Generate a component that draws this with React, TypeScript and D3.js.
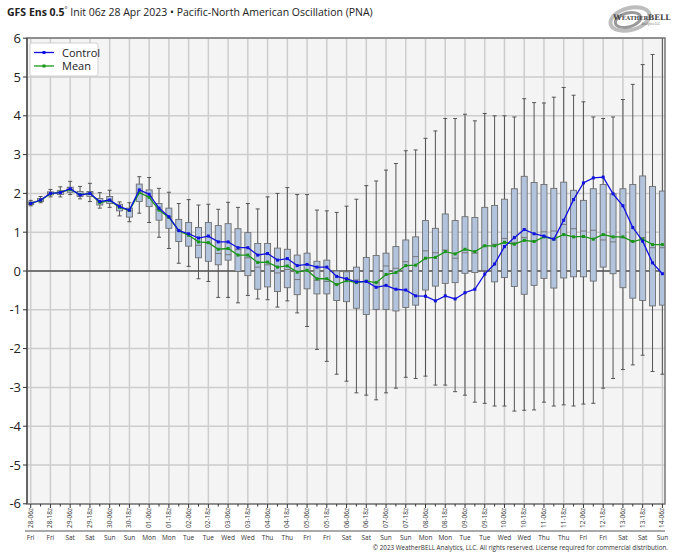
import React from "react";
import * as d3 from "d3";

const tickLabels = [
  "28-06z","28-18z","29-06z","29-18z","30-06z","30-18z","01-06z","01-18z","02-06z","02-18z",
  "03-06z","03-18z","04-06z","04-18z","05-06z","05-18z","06-06z","06-18z","07-06z","07-18z",
  "08-06z","08-18z","09-06z","09-18z","10-06z","10-18z","11-06z","11-18z","12-06z","12-18z",
  "13-06z","13-18z","14-06z",
];
const dayLabels = [
  "Fri","Fri","Sat","Sat","Sun","Sun","Mon","Mon","Tue","Tue","Wed","Wed","Thu","Thu","Fri","Fri",
  "Sat","Sat","Sun","Sun","Mon","Mon","Tue","Tue","Wed","Wed","Thu","Thu","Fri","Fri","Sat","Sat","Sun",
];
const yTicks = [6, 5, 4, 3, 2, 1, 0, -1, -2, -3, -4, -5, -6];

// 6-hourly steps, 28-06z .. 14-06z (65 values)
const control = [
  1.74,1.83,2.0,2.02,2.12,1.96,2.0,1.79,1.83,1.66,1.57,2.09,1.98,1.62,1.40,1.04,
  0.96,0.85,0.90,0.75,0.75,0.60,0.60,0.41,0.45,0.28,0.32,0.14,0.17,0.10,0.10,-0.14,
  -0.20,-0.28,-0.27,-0.42,-0.37,-0.47,-0.49,-0.64,-0.65,-0.77,-0.64,-0.72,-0.56,-0.47,-0.08,0.18,
  0.63,0.86,1.07,0.96,0.90,0.82,1.31,1.84,2.27,2.40,2.42,1.99,1.68,1.12,0.77,0.21,-0.07,
];
const mean = [
  1.74,1.82,1.99,2.03,2.10,1.97,2.0,1.76,1.82,1.64,1.56,2.02,1.90,1.57,1.38,1.04,
  0.92,0.75,0.73,0.56,0.58,0.41,0.41,0.22,0.23,0.10,0.13,-0.03,0.02,-0.20,-0.20,-0.35,
  -0.25,-0.30,-0.26,-0.30,-0.09,-0.04,0.14,0.15,0.33,0.35,0.50,0.44,0.56,0.50,0.65,0.65,
  0.74,0.69,0.79,0.76,0.88,0.82,0.94,0.88,0.89,0.82,0.94,0.88,0.88,0.76,0.82,0.68,0.68,
];
const lowWhisker = [
  1.68,1.76,1.91,1.91,1.97,1.86,1.79,1.62,1.64,1.42,1.27,1.49,1.25,0.87,0.58,0.20,
  0.12,-0.20,-0.27,-0.68,-0.68,-0.82,-0.63,-0.72,-0.74,-0.93,-0.77,-1.08,-1.43,-2.02,-2.33,-2.66,
  -2.84,-3.14,-3.20,-3.32,-3.14,-3.02,-2.74,-2.77,-2.71,-2.94,-2.94,-3.11,-3.20,-3.38,-3.41,-3.48,
  -3.48,-3.61,-3.59,-3.58,-3.38,-3.48,-3.45,-3.48,-3.43,-3.41,-3.02,-2.77,-2.54,-2.42,-2.17,-2.59,-2.66,
];
const q1 = [
  1.71,1.79,1.96,1.97,2.03,1.92,1.92,1.70,1.74,1.55,1.39,1.79,1.66,1.31,1.10,0.76,
  0.64,0.34,0.25,0.16,0.28,-0.01,-0.12,-0.47,-0.41,-0.53,-0.43,-0.61,-0.46,-0.59,-0.59,-0.76,
  -0.79,-0.96,-1.12,-0.99,-0.99,-1.03,-0.94,-0.88,-0.49,-0.39,-0.32,-0.30,-0.06,-0.04,0.01,-0.28,
  -0.17,-0.40,-0.60,-0.37,-0.19,-0.44,-0.18,-0.15,-0.15,-0.26,0.10,-0.07,-0.43,-0.70,-0.76,-0.90,-0.88,
];
const median = [
  1.74,1.83,2.0,2.03,2.10,1.98,2.0,1.78,1.83,1.65,1.55,2.0,1.92,1.58,1.40,1.05,
  0.95,0.66,0.72,0.45,0.42,0.55,0.34,0.10,0.16,-0.05,0.04,-0.22,0.0,-0.24,-0.27,-0.35,
  -0.20,-0.23,-0.27,-0.30,0.13,0.07,0.24,0.37,0.52,0.47,0.54,0.33,0.47,0.46,0.65,0.69,
  0.84,0.73,0.86,0.77,1.01,1.03,1.20,1.09,1.03,1.05,0.80,0.75,0.86,0.76,0.86,0.60,0.60,
];
const q3 = [
  1.78,1.87,2.04,2.07,2.16,2.05,2.05,1.87,1.92,1.72,1.62,2.24,2.09,1.74,1.62,1.33,
  1.25,1.12,1.25,1.17,1.22,1.09,0.99,0.71,0.71,0.59,0.56,0.41,0.46,0.25,0.28,0.0,
  -0.02,0.10,0.35,0.40,0.46,0.63,0.80,0.88,1.30,1.10,1.47,1.30,1.40,1.38,1.64,1.69,
  1.85,2.12,2.44,2.28,2.23,2.13,2.29,2.08,1.82,2.12,2.23,1.99,2.12,2.23,2.45,2.18,2.06,
];
const highWhisker = [
  1.82,1.92,2.10,2.17,2.31,2.18,2.26,2.02,2.08,1.78,1.76,2.43,2.41,2.13,2.03,1.74,
  1.84,1.70,1.72,1.59,1.77,1.64,1.74,1.60,1.91,2.0,2.15,1.97,1.97,1.57,1.55,1.51,
  1.67,1.85,2.20,2.32,2.60,2.77,3.10,3.12,3.42,3.61,3.93,3.93,4.04,3.87,4.06,4.0,
  4.0,3.97,4.44,4.34,4.33,4.48,4.73,4.53,4.36,3.97,3.93,3.97,4.42,4.81,5.32,5.58,6.3,
];

const W = 680, H = 558;
const PL = 27, PR = 665, PT = 38, PB = 504;
const FONT = "'Open Sans', 'Noto Sans', 'DejaVu Sans', sans-serif";

export default function App() {
  const x = d3.scaleLinear().domain([0, control.length - 1]).range([30.7, 662.4]);
  const y = d3.scaleLinear().domain([-6, 6]).range([503.8, 38.2]);
  const idx = d3.range(control.length);
  const lineGen = d3.line<number>().x((_, i) => x(i)).y((d) => y(d));
  const bw = 6, cap = 4;

  return (
    <svg width={W} height={H} style={{ position: "absolute", left: 0, top: 0, background: "#fff" }} fontFamily={FONT}>
      <defs>
        <clipPath id="plotclip">
          <rect x={PL} y={PT} width={PR - PL} height={PB - PT} />
        </clipPath>
      </defs>
      {/* title */}
      <text x={7} y={16} fontSize={10.5} fill="#222">
        <tspan fontWeight="bold">GFS Ens 0.5</tspan>
        <tspan fontSize={7} dy={-4}>°</tspan>
        <tspan dy={4}> Init 06z 28 Apr 2023 • Pacific-North American Oscillation (PNA)</tspan>
      </text>

      {/* logo */}
      <g transform="translate(0,0)">
        <ellipse cx={630} cy={19} rx={20} ry={11} fill="none" stroke="#bdbdbd" strokeWidth={4} transform="rotate(-15 630 19)" />
        <ellipse cx={628} cy={20} rx={13} ry={7} fill="none" stroke="#9a9a9a" strokeWidth={3} transform="rotate(-15 628 20)" />
        <text x={642} y={20} fontSize={7.5} fontFamily="'DejaVu Serif', serif" textAnchor="middle" fill="#444" fontWeight="bold">
          W<tspan fontSize={5.5}>EATHER</tspan>BELL
        </text>
        <text x={660} y={25} fontSize={3} textAnchor="end" fill="#666">Analytics LLC</text>
      </g>

      {/* plot background */}
      <rect x={PL} y={PT} width={PR - PL} height={PB - PT} fill="#f4f4f4" />

      {/* grid */}
      {yTicks.map((t) => (
        <line key={"hy" + t} x1={PL} x2={PR} y1={y(t)} y2={y(t)} stroke="#cdcdcd" strokeWidth={1.5} />
      ))}
      {tickLabels.map((l, k) => (
        <line key={"gx" + l} x1={x(k * 2)} x2={x(k * 2)} y1={PT} y2={PB} stroke="#cdcdcd" strokeWidth={1.5} />
      ))}
      <line x1={PL} x2={PR} y1={y(0)} y2={y(0)} stroke="#555" strokeWidth={1.6} />

      {/* boxes */}
      <g clipPath="url(#plotclip)">
        {idx.map((i) => {
          const cx = x(i);
          return (
            <g key={"b" + i}>
              <line x1={cx} x2={cx} y1={y(highWhisker[i])} y2={y(lowWhisker[i])} stroke="#555" strokeWidth={1} />
              <line x1={cx - cap / 2} x2={cx + cap / 2} y1={y(highWhisker[i])} y2={y(highWhisker[i])} stroke="#555" strokeWidth={1} />
              <line x1={cx - cap / 2} x2={cx + cap / 2} y1={y(lowWhisker[i])} y2={y(lowWhisker[i])} stroke="#555" strokeWidth={1} />
              <rect x={cx - bw / 2} y={y(q3[i])} width={bw} height={Math.max(1, y(q1[i]) - y(q3[i]))} fill="#b2c3de" stroke="#6f6f6f" strokeWidth={0.9} />
              <line x1={cx - bw / 2} x2={cx + bw / 2} y1={y(median[i])} y2={y(median[i])} stroke="#6f6f6f" strokeWidth={0.9} />
            </g>
          );
        })}
      </g>

      {/* mean & control lines */}
      <path d={lineGen(mean) || ""} fill="none" stroke="#1a961a" strokeWidth={1.3} />
      {mean.map((v, i) => (
        <rect key={"mm" + i} x={x(i) - 1.5} y={y(v) - 1.5} width={3} height={3} fill="#1a961a" />
      ))}
      <path d={lineGen(control) || ""} fill="none" stroke="#1010e0" strokeWidth={1.3} />
      {control.map((v, i) => (
        <rect key={"cm" + i} x={x(i) - 1.5} y={y(v) - 1.5} width={3} height={3} fill="#1010e0" />
      ))}

      {/* plot frame */}
      <rect x={PL} y={PT} width={PR - PL} height={PB - PT} fill="none" stroke="#777" strokeWidth={1.5} />
      <line x1={PL} x2={PL} y1={PT} y2={PB} stroke="#555" strokeWidth={1.5} />

      {/* y axis */}
      {yTicks.map((t) => (
        <g key={"yt" + t}>
          <line x1={PL - 4} x2={PL} y1={y(t)} y2={y(t)} stroke="#333" strokeWidth={1} />
          <text x={PL - 6} y={y(t) + 4.5} fontSize={13} textAnchor="end" fill="#222">{t}</text>
        </g>
      ))}

      {/* x axis ticks */}
      {idx.map((i) => (
        <line key={"xt" + i} x1={x(i)} x2={x(i)} y1={PB} y2={PB + (i % 2 === 0 ? 4 : 2.5)} stroke="#333" strokeWidth={1} />
      ))}
      {tickLabels.map((l, k) => (
        <text key={"xl" + l} transform={`translate(${x(k * 2) + 2},${PB + 4}) rotate(-90)`} fontSize={6.5} textAnchor="end" fill="#333">{l}</text>
      ))}
      <line x1={25} x2={PR} y1={531} y2={531} stroke="#555" strokeWidth={1.2} />
      {dayLabels.map((d, k) => (
        <text key={"dl" + k} x={x(k * 2)} y={540} fontSize={6.5} textAnchor="middle" fill="#333">{d}</text>
      ))}

      {/* legend */}
      <rect x={30} y={43} width={68} height={33} rx={2} fill="#fff" stroke="#d0d0d0" strokeWidth={1} />
      <line x1={34} x2={54} y1={52.5} y2={52.5} stroke="#1010e0" strokeWidth={1.3} />
      <rect x={42.5} y={51} width={3} height={3} fill="#1010e0" />
      <text x={62} y={56.5} fontSize={11} fill="#222">Control</text>
      <line x1={34} x2={54} y1={66} y2={66} stroke="#1a961a" strokeWidth={1.3} />
      <rect x={42.5} y={64.5} width={3} height={3} fill="#1a961a" />
      <text x={62} y={70} fontSize={11} fill="#222">Mean</text>

      {/* copyright */}
      <text x={668} y={550} fontSize={6.3} textAnchor="end" fill="#333">
        © 2023 WeatherBELL Analytics, LLC. All rights reserved. License required for commercial distribution.
      </text>
    </svg>
  );
}
